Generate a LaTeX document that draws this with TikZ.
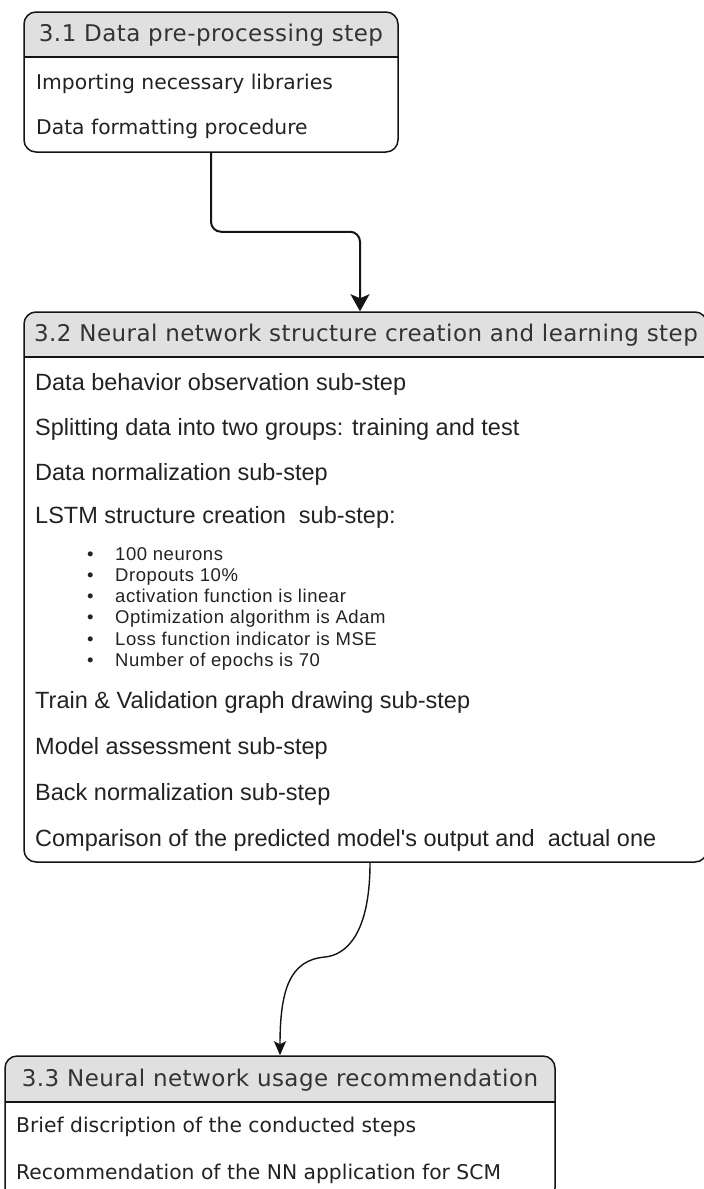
\documentclass[tikz,border=0pt]{standalone}
\usepackage{fontspec}
\newfontfamily\headfont[LetterSpace=2]{DejaVu Sans}
\newfontfamily\plainfont{DejaVu Sans}
\newfontfamily\bodyfont{Liberation Sans}
\newfontfamily\bulletfont[LetterSpace=3]{Liberation Sans}
\usepackage{xcolor}
\usetikzlibrary{arrows.meta, calc, positioning, fit}
\definecolor{headgray}{RGB}{224,224,224}
\definecolor{ink}{RGB}{34,34,34}
\definecolor{headink}{RGB}{51,51,51}
\definecolor{edgeink}{RGB}{20,20,20}

\begin{document}
\begin{tikzpicture}[x=1pt, y=-1pt,
    arrow/.style = {line width=2pt, draw=edgeink, -{Stealth[length=17pt, width=19pt, inset=4pt]}},
    curvy/.style = {line width=1.4pt, draw=edgeink, -{Stealth[length=14pt, width=12pt, inset=3pt]}}]
	\tikzset{box/.style={draw=edgeink, line width=1.5pt, rounded corners=12pt, inner sep=0pt}}
	\tikzset{band/.style={inner sep=0pt}}
	\tikzset{head/.style={anchor=base, inner sep=0pt, text=headink, font=\headfont\fontsize{23}{27}\selectfont}}
	\tikzset{item/.style={anchor=base west, inner sep=0pt, text=ink, font=\bodyfont\fontsize{23.5}{28}\selectfont}}
	\tikzset{vitem/.style={item, font=\plainfont\fontsize{20.3}{25}\selectfont}}
	\tikzset{bitem/.style={item, font=\bulletfont\fontsize{18.5}{22}\selectfont}}

	\useasboundingbox (0,0) rectangle (704,1189);
	\clip (0,0) rectangle (704,1189);

	% 3.1
	\begin{scope}
		\clip[rounded corners=12pt] (24,12) rectangle (398,152);
		\fill[headgray] (24,12) rectangle (398,57);
	\end{scope}
	\node[box, fit={(24,12) (398,152)}] (prep) {};
	\node[band, fit={(24,12) (398,57)}] (prephead) {};
	\draw[box] (prephead.south west) -- (prephead.south east);
	\node[head] (preptitle) at (211,41.4) {3.1 Data pre-processing step};
	\node[vitem] (prepimport) at (36,89.5) {Importing necessary libraries};
	\node[vitem] (prepformat) at (36,134.5) {Data formatting procedure};

	% 3.2
	\begin{scope}
		\clip[rounded corners=12pt] (24,312) rectangle (707,862);
		\fill[headgray] (24,312) rectangle (707,357);
	\end{scope}
	\node[box, fit={(24,312) (707,862)}] (nn) {};
	\node[band, fit={(24,312) (707,357)}] (nnhead) {};
	\draw[box] (nnhead.south west) -- (nnhead.south east);
	\node[head] (nntitle) at (366,341.4) {3.2 Neural network structure creation and learning step};
	\node[item] (nnobserve) at (35,390) {Data behavior observation sub-step};
	\node[item] (nnsplit) at (35,435) {Splitting data into two groups: training and test};
	\node[item] (nnnorm) at (35,480) {Data normalization sub-step};
	\node[item] (nnlstm) at (35,523) {LSTM structure creation~ sub-step:};
	\node[bitem] (lstmunits) at (87,560) {\makebox[28pt][l]{\textbullet}100 neurons};
	\node[bitem] (lstmdrop) at (87,581.3) {\makebox[28pt][l]{\textbullet}Dropouts 10\%};
	\node[bitem] (lstmact) at (87,602.6) {\makebox[28pt][l]{\textbullet}activation function is linear};
	\node[bitem] (lstmopt) at (87,623.9) {\makebox[28pt][l]{\textbullet}Optimization algorithm is Adam};
	\node[bitem] (lstmloss) at (87,645.2) {\makebox[28pt][l]{\textbullet}Loss function indicator is MSE};
	\node[bitem] (lstmepoch) at (87,666.5) {\makebox[28pt][l]{\textbullet}Number of epochs is 70};
	\node[item] (nngraph) at (35,708) {Train \& Validation graph drawing sub-step};
	\node[item] (nnassess) at (35,754) {Model assessment sub-step};
	\node[item] (nnback) at (35,800) {Back normalization sub-step};
	\node[item] (nncompare) at (35,846) {Comparison of the predicted model's output and~ actual one};

	% 3.3
	\begin{scope}
		\clip[rounded corners=12pt] (5,1056) rectangle (555,1200);
		\fill[headgray] (5,1056) rectangle (555,1102);
	\end{scope}
	\node[box, fit={(5,1056) (555,1200)}] (rec) {};
	\node[band, fit={(5,1056) (555,1102)}] (rechead) {};
	\draw[box] (rechead.south west) -- (rechead.south east);
	\node[head] (rectitle) at (280,1086.4) {3.3 Neural network usage recommendation};
	\node[vitem] (recbrief) at (16,1132.6) {Brief discription of the conducted steps};
	\node[vitem] (recnn) at (16,1179.6) {Recommendation of the NN application for SCM};

	\coordinate (bend) at (325,957);

	\draw[arrow, rounded corners=10pt] (prep.south) -- ++(0,79) -| ([xshift=-5.5pt]nn.north);
	\draw[curvy] ([xshift=4.5pt]nn.south) .. controls +(0,73) and +(20,-2) .. (bend)
		.. controls +(-35,3) and +(0,-66) .. (rec.north);

\end{tikzpicture}
\end{document}
